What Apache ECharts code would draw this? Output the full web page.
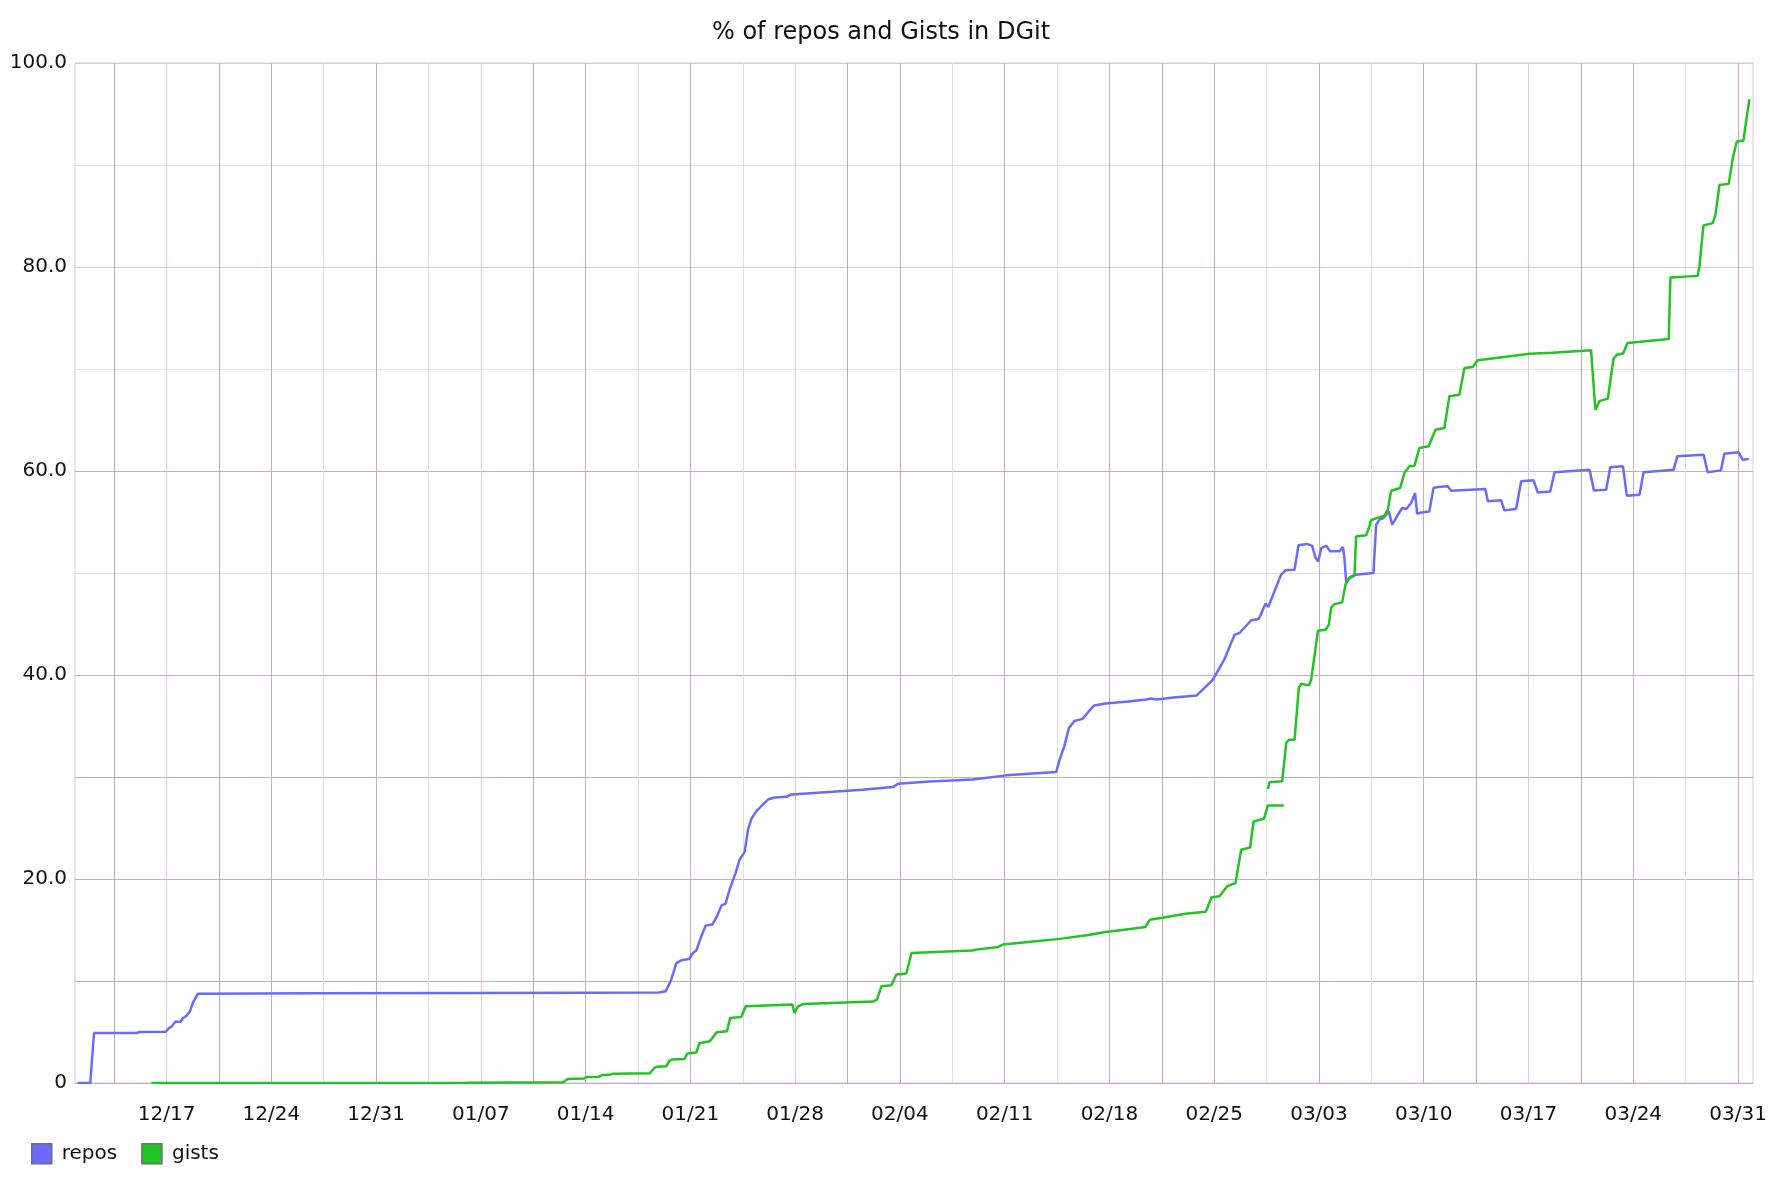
<!DOCTYPE html>
<html>
<head>
<meta charset="utf-8">
<title>% of repos and Gists in DGit</title>
<script src="https://cdn.jsdelivr.net/npm/echarts@6/dist/echarts.min.js"></script>
<style>
  html, body { margin: 0; padding: 0; background: #fff; }
  #dgit-chart { width: 1788px; height: 1178px; }
</style>
</head>
<body>
<div id="dgit-chart"></div>
<script>
// x values are days since 2015-12-17 00:00
var weekLabels = ['12/17', '12/24', '12/31', '01/07', '01/14', '01/21', '01/28', '02/04',
  '02/11', '02/18', '02/25', '03/03', '03/10', '03/17', '03/24', '03/31'];

var repoDays = [-5.95, -5.1, -4.85, -2.0, -1.8, -0.05, 0.17, 0.35, 0.57, 0.93, 1.10, 1.33, 1.55, 1.77, 2.1,
  10, 20, 28, 32.9, 33.35, 33.72, 34.06, 34.39, 34.91, 35.17, 35.39, 35.73, 36.02, 36.46, 36.78,
  37.07, 37.35, 37.62, 38.02, 38.29, 38.62, 38.85, 39.07, 39.41, 39.74, 40.18, 40.63, 41.41, 41.74,
  44.5, 46.5, 48.53, 48.87, 51.0, 53.88, 56.1, 59.44, 59.67, 59.98, 60.29, 60.67, 61.2, 61.66, 61.97,
  62.73, 64.25, 65.47, 65.77, 66.16, 67.3, 68.83, 69.89, 70.36, 70.69, 71.36, 71.69, 72.47, 72.98,
  73.43, 73.61, 74.47, 74.76, 75.37, 75.63, 76.19, 76.54, 76.77, 76.95, 77.15, 77.48, 77.75, 78.37,
  78.6, 78.7, 78.82, 79.09, 79.44, 80.64, 80.82, 81.04, 81.31, 81.67, 81.89, 82.27, 82.56, 82.83,
  83.16, 83.42, 83.56, 83.83, 84.38, 84.65, 84.94, 85.61, 85.83, 88.12, 88.28, 89.17, 89.39, 90.17,
  90.51, 91.33, 91.62, 92.45, 92.74, 95.08, 95.37, 96.19, 96.46, 97.31, 97.57, 98.42, 98.69, 100.7,
  100.94, 102.7, 102.97, 103.86, 104.08, 105.04, 105.31, 105.71];
var repoPct = [0, 0, 4.9, 4.9, 5.0, 5.03, 5.39, 5.55, 6.0, 6.0, 6.37, 6.6, 7.02, 7.91, 8.76,
  8.8, 8.83, 8.86, 8.88, 8.99, 10.13, 11.76, 12.03, 12.16, 12.75, 12.98, 14.39, 15.43, 15.53, 16.35,
  17.39, 17.59, 18.97, 20.6, 21.91, 22.63, 24.85, 25.9, 26.65, 27.14, 27.79, 27.99, 28.06, 28.29,
  28.55, 28.75, 29.01, 29.34, 29.55, 29.76, 30.16, 30.48, 31.7, 33.0, 34.8, 35.5, 35.7, 36.5, 37.0,
  37.2, 37.4, 37.6, 37.7, 37.6, 37.8, 38.0, 39.5, 40.69, 41.57, 43.96, 44.12, 45.37, 45.5,
  47.0, 46.67, 49.84, 50.26, 50.33, 52.72, 52.85, 52.68, 51.47, 51.14, 52.45, 52.68, 52.13, 52.13,
  52.55, 51.47, 49.02, 49.61, 49.84, 50.0, 54.73, 55.23, 55.39, 56.04, 54.73, 55.71, 56.37, 56.27,
  56.86, 57.84, 55.81, 55.94, 56.04, 58.33, 58.43, 58.5, 58.07, 58.24, 57.03, 57.13, 56.14, 56.27,
  58.99, 59.09, 57.9, 58.0, 59.87, 60.13, 58.1, 58.17, 60.36, 60.46, 57.58, 57.67, 59.87, 60.13,
  61.44, 61.6, 59.87, 60.06, 61.7, 61.83, 61.11, 61.18];

var gistDays = [-1.01, 10, 20, 26.5, 26.8, 27.9, 28.1, 28.9, 29.1, 29.6, 29.8, 32.3, 32.6, 32.8, 33.4,
  33.6, 33.8, 34.6, 34.8, 35.4, 35.6, 35.7, 36.3, 36.75, 37.44, 37.66, 38.40, 38.69, 41.81, 41.96,
  42.19, 42.30, 42.57, 47.2, 47.47, 47.76, 48.43, 48.76, 49.43, 49.77, 53.8, 54.2, 55.56, 55.89,
  57.4, 59.68, 61.59, 62.73, 63.87, 65.4, 65.7, 66.54, 68.06, 69.44, 69.82, 70.35, 70.88, 71.42,
  71.8, 72.40, 72.63, 73.32, 73.58, 74.65, 74.65, 73.58, 73.70, 74.54, 74.81, 74.99, 75.37, 75.65,
  75.81, 76.33, 76.48, 76.93, 77.44, 77.66, 77.82, 78.04, 78.55, 78.77, 78.93, 79.37, 79.48, 80.15,
  80.37, 80.48, 81.38, 81.6, 81.82, 82.42, 82.71, 83.04, 83.38, 83.71, 84.33, 84.78, 85.38, 85.71,
  86.38, 86.72, 87.27, 87.61, 88.84, 91.06, 92.62, 95.18, 95.47, 95.74, 96.3, 96.68, 96.9, 97.32,
  97.61, 100.37, 100.48, 102.31, 102.42, 102.69, 103.31, 103.49, 103.76, 104.38, 104.65, 104.92,
  105.36, 105.54, 105.76];
var gistPct = [0, 0.01, 0.02, 0.08, 0.4, 0.45, 0.6, 0.62, 0.78, 0.8, 0.9, 0.95, 1.5, 1.6, 1.65,
  2.2, 2.3, 2.35, 2.9, 3.0, 3.9, 4.0, 4.1, 4.97, 5.07, 6.38, 6.48, 7.52, 7.69, 6.87,
  7.52, 7.42, 7.75, 7.98, 8.17, 9.48, 9.58, 10.63, 10.73, 12.75, 13.0, 13.1, 13.34, 13.57,
  13.8, 14.13, 14.5, 14.8, 15.0, 15.3, 16.0, 16.2, 16.6, 16.8, 18.2, 18.3, 19.3, 19.6,
  22.86, 23.09, 25.64, 25.9, 27.2, 27.2, null, 28.82, 29.48, 29.58, 33.33, 33.66, 33.66, 38.72,
  39.15, 38.98, 39.54, 44.34, 44.44, 44.93, 46.66, 46.95, 47.12, 48.85, 49.41, 49.73, 53.59, 53.69,
  54.57, 55.2, 55.62, 56.21, 58.07, 58.33, 59.8, 60.46, 60.52, 62.26, 62.42, 64.05, 64.22, 67.32,
  67.48, 70.1, 70.19, 70.85, 71.08, 71.5, 71.6, 71.85, 66.0, 66.85, 67.1, 71.0, 71.4, 71.52,
  72.54, 72.95, 78.97, 79.13, 80.05, 84.07, 84.3, 85.11, 88.05, 88.15, 90.67, 92.3,
  92.4, 94.26, 96.45];

function pairs(xs, ys) {
  return xs.map(function (x, i) { return [x, ys[i] == null ? '-' : ys[i]]; });
}

// half-week grid positions, weekly ones carry the labels
var gridDays = [];
for (var k = -1; k < weekLabels.length * 2 - 1; k++) gridDays.push(k * 3.5);
var labelDays = weekLabels.map(function (l, i) { return i * 7; });

var P = '#cfa6d3', PL = '#dfc3e2', G = '#b2b2b2', L = '#e0e0e0';
var vColors = [G, PL, G, P, L, P, L, PL, G, P, L, P, L, PL, G, P,
  L, P, L, P, G, P, L, P, L, P, G, PL, G, P, L, P];
var hColors = [P, G, P, G, P, L, P, L, PL, L, PL];

var chart = echarts.init(document.getElementById('dgit-chart'));
chart.setOption({
  animation: false,
  backgroundColor: '#fff',
  textStyle: { fontFamily: 'DejaVu Sans', color: '#111' },
  title: {
    text: '% of repos and Gists in DGit',
    left: 707,
    top: 16,
    textStyle: { fontFamily: 'DejaVu Sans', fontSize: 24, fontWeight: 'normal', color: '#111' }
  },
  legend: {
    left: 26,
    top: 1138,
    icon: 'rect',
    itemWidth: 20,
    itemHeight: 20,
    itemGap: 24,
    itemStyle: { borderColor: '#707070', borderWidth: 1.5 },
    textStyle: { fontFamily: 'DejaVu Sans', fontSize: 20, color: '#111', padding: [0, 0, 0, 5] },
    data: ['repos', 'gists']
  },
  grid: {
    left: 75, right: 35, top: 63, bottom: 95,
    show: true, borderColor: '#dfc3e2', borderWidth: 1
  },
  xAxis: {
    type: 'value',
    min: -6.12,
    max: 106,
    axisLine: { show: true, lineStyle: { color: '#c9a3cd', width: 1 } },
    axisTick: { show: false, customValues: gridDays },
    splitLine: { show: true, lineStyle: { color: vColors, width: 1 } },
    axisLabel: {
      customValues: labelDays,
      margin: 22,
      fontSize: 20,
      color: '#111',
      fontFamily: 'DejaVu Sans',
      formatter: function (v) { return weekLabels[Math.round(v / 7)] || ''; }
    }
  },
  yAxis: {
    type: 'value',
    min: 0,
    max: 100,
    interval: 10,
    axisLine: { show: true, lineStyle: { color: '#dfc3e2', width: 1 } },
    axisTick: { show: false },
    splitLine: { show: true, lineStyle: { color: hColors, width: 1 } },
    axisLabel: {
      margin: 8,
      fontSize: 20,
      color: '#111',
      fontFamily: 'DejaVu Sans',
      formatter: function (v) {
        if (v % 20 !== 0) return '';
        return v === 0 ? '0' : v.toFixed(1);
      }
    }
  },
  series: [
    {
      name: 'repos',
      type: 'line',
      showSymbol: false,
      color: '#6a6aff',
      lineStyle: { width: 2.5, color: '#6a6aff' },
      data: pairs(repoDays, repoPct)
    },
    {
      name: 'gists',
      type: 'line',
      showSymbol: false,
      color: '#21c421',
      lineStyle: { width: 2.5, color: '#21c421' },
      data: pairs(gistDays, gistPct)
    }
  ]
});
</script>
</body>
</html>
